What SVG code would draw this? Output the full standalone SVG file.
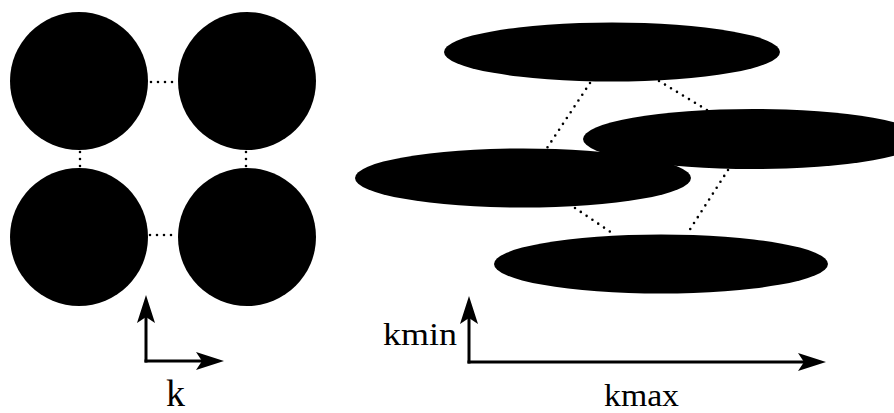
<svg xmlns="http://www.w3.org/2000/svg" width="894" height="413" viewBox="0 0 894 413">
  <style>
    .blob { fill: #000; }
    .dots { fill: none; stroke: #000; stroke-width: 2.6; stroke-linecap: round; stroke-dasharray: 0 7; }
    .axis { fill: none; stroke: #000; stroke-width: 3; }
    .lbl { font-family: "Liberation Serif", "DejaVu Serif", serif; fill: #000; }
  </style>
  <defs>
    <marker id="head" markerUnits="userSpaceOnUse" viewBox="0 0 28 18" markerWidth="28" markerHeight="18" refX="6" refY="9" orient="auto">
      <path d="M0,0 L28,9 L0,18 L6,9 Z" fill="#000"/>
    </marker>
  </defs>

  <rect width="894" height="413" fill="#fff"/>

  <!-- square lattice: dotted links between neighbouring discs -->
  <g id="connectors">
    <line class="dots" x1="151" y1="82" x2="177" y2="82"/>
    <line class="dots" x1="150" y1="235" x2="177" y2="235"/>
    <line class="dots" x1="80" y1="152" x2="80" y2="167"/>
    <line class="dots" x1="246" y1="152" x2="246" y2="167"/>
    <!-- sheared lattice: parallelogram links between ellipses -->
    <line class="dots" x1="590" y1="83" x2="547" y2="148"/>
    <line class="dots" x1="659" y1="81" x2="707" y2="110"/>
    <line class="dots" x1="575" y1="208" x2="615" y2="235"/>
    <line class="dots" x1="728" y1="170" x2="687" y2="234"/>
  </g>

  <!-- square lattice of discs -->
  <g id="disc-top-left"><circle class="blob" cx="79" cy="81" r="69"/></g>
  <g id="disc-top-right"><circle class="blob" cx="247" cy="81" r="69"/></g>
  <g id="disc-bottom-left"><circle class="blob" cx="79" cy="237" r="69"/></g>
  <g id="disc-bottom-right"><circle class="blob" cx="247" cy="237" r="69"/></g>

  <!-- sheared lattice of ellipses -->
  <g id="ellipse-top"><ellipse class="blob" cx="612" cy="52" rx="168" ry="29.5"/></g>
  <g id="ellipse-mid-right"><ellipse class="blob" cx="753" cy="139" rx="170" ry="30"/></g>
  <g id="ellipse-mid-left"><ellipse class="blob" cx="523" cy="178" rx="168" ry="29.5"/></g>
  <g id="ellipse-bottom"><ellipse class="blob" cx="661" cy="264" rx="167" ry="29.5"/></g>

  <!-- axes -->
  <g id="axes-left">
    <line class="axis" x1="146" y1="362.5" x2="146" y2="317" marker-end="url(#head)"/>
    <line class="axis" x1="144.5" y1="361" x2="202" y2="361" marker-end="url(#head)"/>
    <text class="lbl" x="166" y="406" font-size="38">k</text>
  </g>
  <g id="axes-right">
    <line class="axis" x1="469" y1="363.5" x2="469" y2="318" marker-end="url(#head)"/>
    <line class="axis" x1="467.5" y1="362" x2="804" y2="362" marker-end="url(#head)"/>
    <text class="lbl" x="383" y="345" font-size="32" textLength="74" lengthAdjust="spacingAndGlyphs">kmin</text>
    <text class="lbl" x="604" y="406" font-size="32" textLength="75" lengthAdjust="spacingAndGlyphs">kmax</text>
  </g>
</svg>
